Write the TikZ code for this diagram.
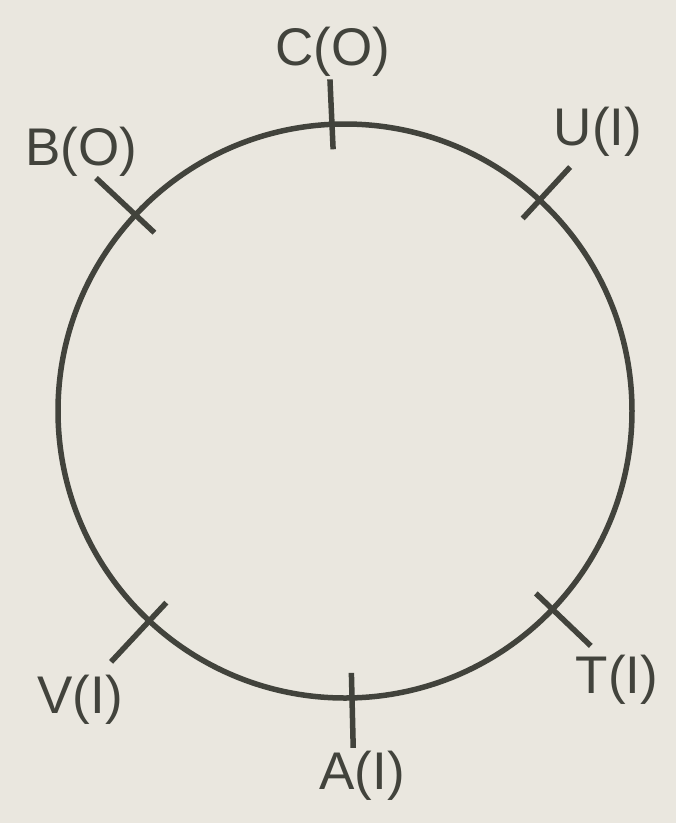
\documentclass[tikz,border=0pt]{standalone}
\usepackage{fontspec}
\setmainfont{Liberation Sans}
\usetikzlibrary{calc}
\definecolor{paper}{RGB}{234,231,223}
\definecolor{ink}{RGB}{66,67,60}
\begin{document}
\begin{tikzpicture}[x=1pt,y=1pt,
  ring/.style={draw=ink,line width=5.5pt},
  tickmark/.style={draw=ink,line width=5.5pt},
  lab/.style={text=ink,inner sep=0pt,font=\fontsize{53}{62}\selectfont}]
\fill[paper] (0,0) rectangle (676,-823);
\useasboundingbox (0,0) rectangle (676,-823);
\coordinate (O) at (345,-411);
\draw[ring] (O) circle (287);
% ticks
\draw[tickmark] ($(O)+(92.6:262)$) -- ($(O)+(92.6:332)$);
\draw[tickmark] ($(O)+(47.3:262)$) -- ($(O)+(47.3:332)$);
\draw[tickmark] ($(O)+(136.9:261)$) -- ($(O)+(136.9:341)$);
\draw[tickmark] ($(O)+(227:262)$) -- ($(O)+(227:343)$);
\draw[tickmark] ($(O)+(-88.6:262)$) -- ($(O)+(-88.6:337)$);
\draw[tickmark] ($(O)+(-43.7:264)$) -- ($(O)+(-43.7:340)$);
% labels
\node[lab] (C) at (333,-52) {C(O)};
\node[lab] (B) at (81,-152) {B(O)};
\node[lab] (U) at (598,-132) {U(I)};
\node[lab] (V) at (80,-700) {V(I)};
\node[lab] (A) at (362,-776) {A(I)};
\node[lab] (T) at (617,-680) {T(I)};
\end{tikzpicture}
\end{document}
